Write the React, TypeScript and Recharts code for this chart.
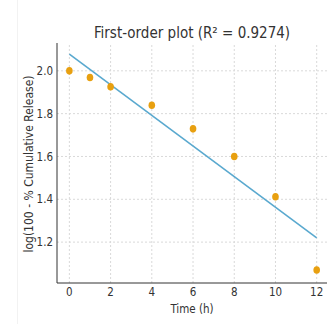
import { ComposedChart, Label, Line, ReferenceLine, Scatter, XAxis, YAxis } from "recharts";

// sampling times (h) and log10 of % drug remaining
const times = [0, 1, 2, 4, 6, 8, 10, 12];
const logRemaining = [2.0, 1.969, 1.926, 1.839, 1.729, 1.6, 1.412, 1.07];

// fitted first-order line, read at its two ends
const fitTimes = [0, 12];
const fitValues = [2.078, 1.22];

const xTicks = [0, 2, 4, 6, 8, 10, 12];
const yTicks = [1.2, 1.4, 1.6, 1.8, 2.0];

const FONT = '"DejaVu Sans Condensed", "DejaVu Sans", sans-serif';

const points = times.map((t, i) => ({ t, v: logRemaining[i] }));
const fit = fitTimes.map((t, i) => ({ t, fit: fitValues[i] }));

function YTitle() {
  const cx = 29;
  const cy = 164;
  return (
    <text x={cx} y={cy} transform={`rotate(-90, ${cx}, ${cy})`} textAnchor="middle" dominantBaseline="central" fontSize={12} fill="#333" fontFamily={FONT}>
      log(100 - % Cumulative Release)
    </text>
  );
}

function XTitle(props: any) {
  const vb = props.viewBox;
  return (
    <text x={vb.x + vb.width / 2} y={313} textAnchor="middle" fontSize={11.5} fill="#333" fontFamily={FONT}>
      Time (h)
    </text>
  );
}

export default function App() {
  return (
    <div style={{ position: "absolute", left: 0, top: 0, width: 327, height: 324, background: "#fff", fontFamily: FONT }}>
      <div style={{ position: "absolute", left: 17, top: 0, width: 1, height: 324, background: "#f2f2f2" }} />
      <div style={{ position: "absolute", left: 57, width: 270, top: 23, textAlign: "center", fontSize: 15, color: "#333", lineHeight: "20px" }}>
        First-order plot (R² = 0.9274)
      </div>
      <ComposedChart width={327} height={324} margin={{ top: 43, right: 0, bottom: 0, left: 0 }} style={{ position: "absolute", left: 0, top: 0 }}>
        <XAxis
          dataKey="t"
          type="number"
          domain={[-0.6, 12.5]}
          ticks={xTicks}
          allowDataOverflow
          height={41}
          tickLine={false}
          tickSize={0}
          tickMargin={5}
          axisLine={{ stroke: "#333" }}
          tick={{ fontSize: 11.5, fill: "#333", fontFamily: FONT }}
        >
          <Label content={XTitle} />
        </XAxis>
        <YAxis
          type="number"
          domain={[1.009, 2.13]}
          ticks={yTicks}
          allowDataOverflow
          width={57}
          tickLine={false}
          tickSize={0}
          tickMargin={4}
          axisLine={{ stroke: "#333" }}
          tickFormatter={(v: number) => v.toFixed(1)}
          tick={{ fontSize: 11.5, fill: "#333", fontFamily: FONT }}
        >
          <Label content={YTitle} />
        </YAxis>
        {xTicks.map((t) => (
          <ReferenceLine key={`x${t}`} x={t} stroke="#d9d9d9" strokeDasharray="2 2" />
        ))}
        {yTicks.map((v) => (
          <ReferenceLine key={`y${v}`} y={v} stroke="#d9d9d9" strokeDasharray="2 2" />
        ))}
        <Line data={fit} dataKey="fit" stroke="#5aa9cf" strokeWidth={1.6} dot={false} isAnimationActive={false} />
        <Scatter data={points} dataKey="v" fill="#e8a010" shape={(p: any) => <ellipse cx={p.cx} cy={p.cy} rx={3.3} ry={3.8} fill="#e8a010" />} isAnimationActive={false} />
      </ComposedChart>
    </div>
  );
}
